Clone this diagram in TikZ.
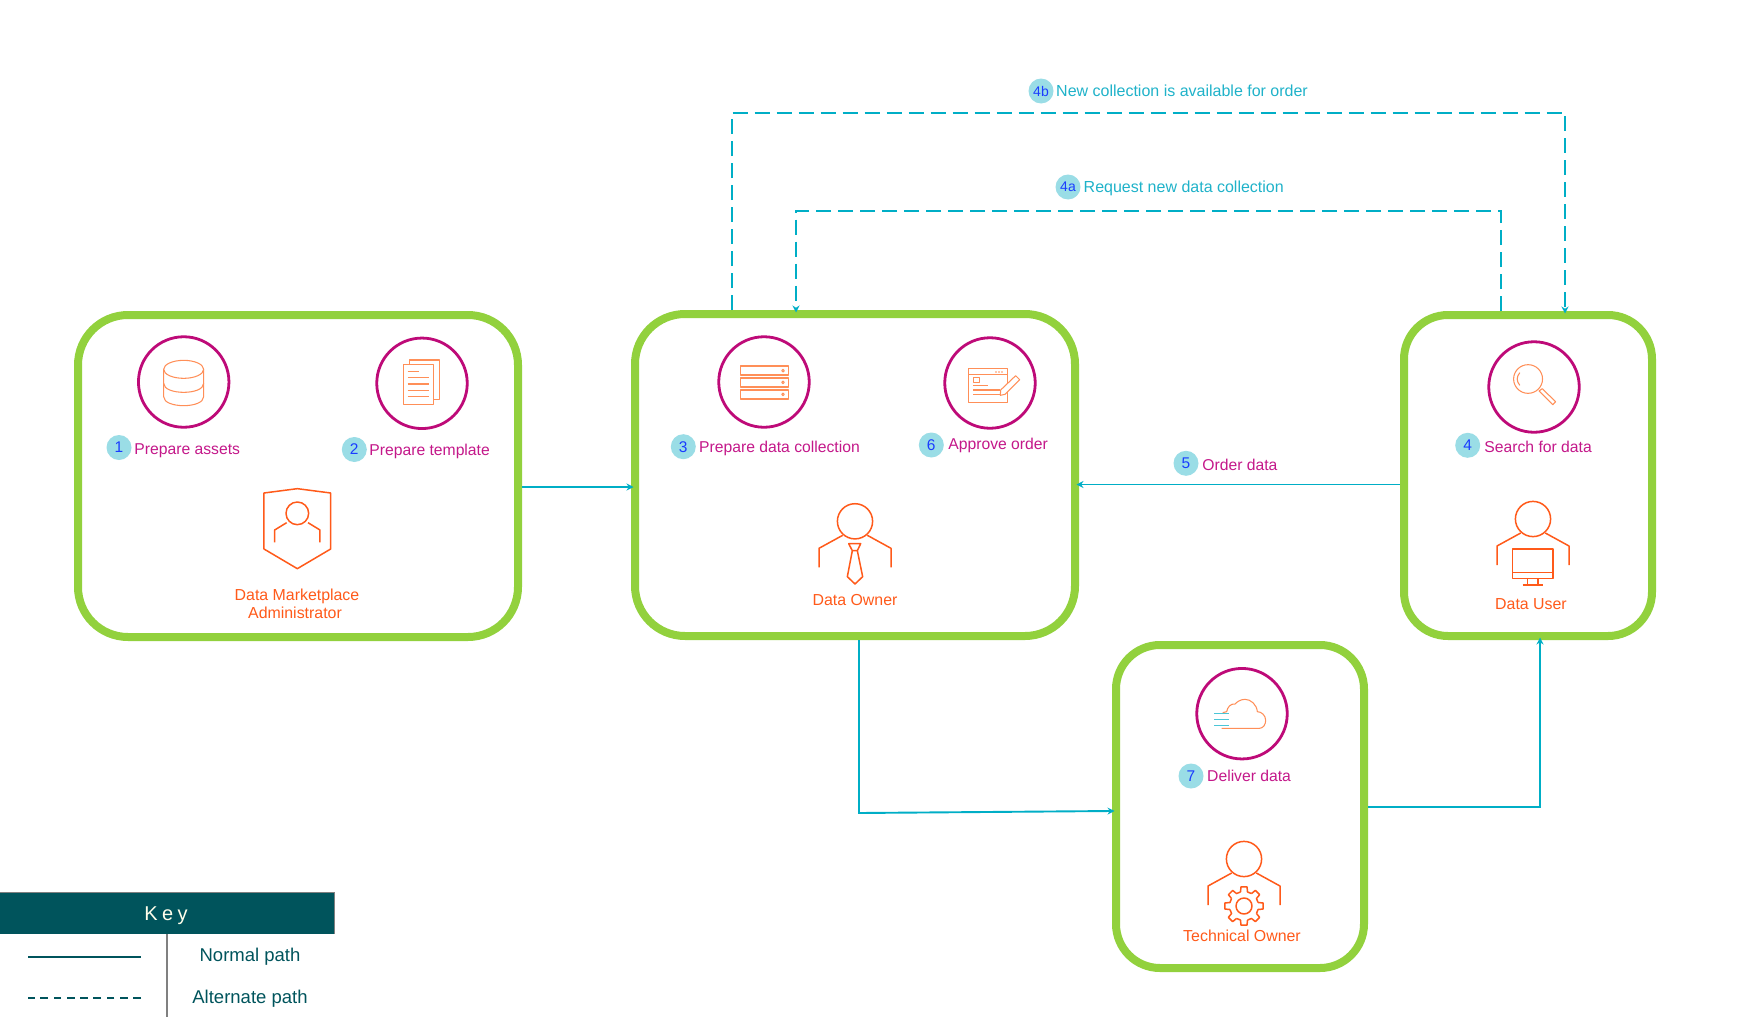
\documentclass[tikz,border=0pt]{standalone}
\usepackage{fontspec}
\setmainfont{Liberation Sans}
\usetikzlibrary{arrows.meta}
\definecolor{boxgreen}{HTML}{92D13D}
\definecolor{ringmag}{HTML}{BE0A78}
\definecolor{stepmag}{HTML}{C4188A}
\definecolor{roleor}{HTML}{FF5A1A}
\definecolor{iconor}{HTML}{FF8F58}
\definecolor{flowcy}{HTML}{00AEC6}
\definecolor{labelcy}{HTML}{1FB2C9}
\definecolor{badgecy}{HTML}{9ADDE6}
\definecolor{numblue}{HTML}{1A3CFF}
\definecolor{keyteal}{HTML}{00545C}
\tikzset{
  x=1pt,y=-1pt,
  groupbox/.style={draw=boxgreen,line width=8pt,rounded corners=#1,inner sep=0pt,fill=white},
  stepring/.style={draw=ringmag,line width=2.8pt,circle,minimum size=90.5pt,inner sep=0pt},
  badge/.style={fill=badgecy,circle,minimum size=25pt,inner sep=0pt,text=numblue,font=\fontsize{15.5}{18}\selectfont},
  smallbadge/.style={badge,font=\fontsize{14}{16}\selectfont},
  steptext/.style={anchor=base west,inner sep=0pt,text=stepmag,font=\fontsize{15.7}{18}\selectfont},
  flowtext/.style={anchor=base west,inner sep=0pt,text=labelcy,font=\fontsize{16}{18}\selectfont},
  roletext/.style={anchor=base,inner sep=0pt,text=roleor,align=center,font=\fontsize{15.9}{18}\selectfont},
  keytext/.style={anchor=base,inner sep=0pt,text=keyteal,font=\fontsize{18.5}{20}\selectfont},
  flow/.style={draw=flowcy,line width=1.9pt,shorten >=-2.5pt,-{Stealth[length=7pt,width=7pt]}},
  altflow/.style={flow,line width=2pt,dash pattern=on 15pt off 7pt},
  icon/.style={draw=iconor,line width=1.05pt,line join=round},
  figure/.style={draw=roleor,line width=1.5pt,line join=round},
  personbody/.pic={
    \draw[figure] (0,0) circle (17.6);
    \draw[figure] (-12.3,14) -- (-36,27) -- (-36,46);
    \draw[figure] (12.3,14) -- (36,27) -- (36,46);
  }
}
\begin{document}
\begin{tikzpicture}
\useasboundingbox (0,0) rectangle (1746,1017);

% group boxes
\node[groupbox=50pt,minimum width=440pt,minimum height=322pt] (b1) at (298,476) {};
\node[groupbox=50pt,minimum width=440pt,minimum height=322pt] (b2) at (855,475) {};
\node[groupbox=44pt,minimum width=248pt,minimum height=321pt] (b3) at (1528,475.5) {};
\node[groupbox=44pt,minimum width=248pt,minimum height=323pt] (b4) at (1240,806.5) {};

% connector end points
\coordinate (a1) at ([yshift=-11pt]b1.east);
\coordinate (a2) at ([yshift=-12pt]b2.west);
\coordinate (c1) at ([yshift=-9pt]b3.west);
\coordinate (c2) at ([yshift=-9.5pt]b2.east);
\coordinate (d1) at ([xshift=4pt]b2.south);
\coordinate (d2) at ([yshift=-4.5pt]b4.west);
\coordinate (d3) at (d1 |- 0,813);
\coordinate (e1) at ([yshift=-0.5pt]b4.east);
\coordinate (e2) at ([xshift=12pt]b3.south);
\coordinate (f1) at ([xshift=-123pt]b2.north);
\coordinate (f2) at ([xshift=37pt]b3.north);
\coordinate (ftop) at (0,112.5);
\coordinate (g1) at ([xshift=-27.5pt]b3.north);
\coordinate (g2) at ([xshift=-59pt]b2.north);
\coordinate (gtop) at (0,210.5);

% connectors
\draw[flow] (a1) -- (a2);
\draw[flow] (c1) -- (c2);
\draw[flow] (d1) -- (d3) -- (d2);
\draw[flow] (e1) -- (e2 |- e1) -- (e2);
\draw[altflow] (f1) -- (f1 |- ftop) -- (f2 |- ftop) -- (f2);
\draw[altflow] (g1) -- (g1 |- gtop) -- (g2 |- gtop) -- (g2);

% step rings
\node[stepring] (r1) at (183.7,382) {};
\node[stepring] (r2) at (422,383.3) {};
\node[stepring] (r3) at (764,382) {};
\node[stepring] (r6) at (990,383) {};
\node[stepring] (r4) at (1534,387) {};
\node[stepring] (r7) at (1242,713.7) {};

% badges
\node[badge] (n1) at (119,447.5) {1};
\node[badge] (n2) at (354.3,449.5) {2};
\node[badge] (n3) at (683.3,446.7) {3};
\node[badge] (n6) at (931.3,445) {6};
\node[badge] (n4) at (1467.7,445.3) {4};
\node[badge] (n5) at (1186,463.3) {5};
\node[badge] (n7) at (1191,776) {7};
\node[smallbadge] (n4b) at (1041,91) {4b};
\node[smallbadge] (n4a) at (1068,187) {4a};

% step and flow labels
\node[steptext] (t1) at (134.2,454) {Prepare assets};
\node[steptext] (t2) at (369.2,455) {Prepare template};
\node[steptext] (t3) at (699,452) {Prepare data collection};
\node[steptext] (t6) at (948.2,449) {Approve order};
\node[steptext] (t4) at (1484.2,452) {Search for data};
\node[steptext] (t5) at (1202.2,470) {Order data};
\node[steptext] (t7) at (1207,781) {Deliver data};
\node[flowtext] (t4b) at (1056,96) {New collection is available for order};
\node[flowtext] (t4a) at (1083.5,192) {Request new data collection};

% role labels
\node[roletext] (ra) at (297,600) {Data Marketplace};
\node[roletext] (rb) at (295,618) {Administrator};
\node[roletext] (ro) at (855,605) {Data Owner};
\node[roletext] (ru) at (1531,609) {Data User};
\node[roletext] (rt) at (1242,941) {Technical Owner};

% --- icon: database (zoom coordinates)
\begin{scope}[shift={(60,300)},scale=1/3]
  \draw[icon] (371,208) ellipse (60 and 27);
  \draw[icon] (311,208) -- (311,290) .. controls (311,326) and (431,326) .. (431,290) -- (431,208);
  \draw[icon] (311,250) .. controls (311,286) and (431,286) .. (431,250);
  % documents
  \draw[icon] (1048,194) -- (1048,180) -- (1138,180) -- (1138,298) -- (1122,298);
  \draw[icon] (1031,194) rectangle (1121,313);
  \draw[icon] (1043,214) -- (1076,214);
  \foreach \ly in {233,252,271,290} \draw[icon] (1043,\ly) -- (1108,\ly);
  % administrator shield
  \draw[figure] (712,566) -- (812,579) -- (812,747) -- (712,806) -- (612,747) -- (612,579) -- cycle;
  \draw[figure] (712,640) circle (34);
  \draw[figure] (680,668) -- (644,690) -- (644,727);
  \draw[figure] (744,668) -- (780,690) -- (780,727);
\end{scope}

% --- icons: server, approve order
\begin{scope}[shift={(620,310)},scale=1/3]
  \foreach \ty/\dy in {168/182,204/217,240/253}{
    \draw[icon] (361,\ty) rectangle (506,\ty+27);
    \draw[icon] (489,\dy) circle (4);
  }
  \draw[icon,fill=white] (1045,176) rectangle (1162,277);
  \draw[icon] (1045,193) -- (1162,193);
  \foreach \dx in {1128,1137,1146} \fill[iconor] (\dx,186) circle (2.6);
  \draw[icon] (1060,202) rectangle (1078,218);
  \draw[icon] (1060,227) -- (1103,227);
  \draw[icon] (1060,240) -- (1140,240);
  \draw[icon] (1060,254) -- (1140,254);
  \draw[icon,fill=white] (1142,240) -- (1187,197) -- (1199,209) -- (1155,253) -- (1141,256) -- cycle;
\end{scope}

% --- icon: magnifier
\begin{scope}[shift={(1130,310)},xscale=1/2.904,yscale=1/3]
  \draw[icon] (1156,207) ellipse (42 and 43);
  \draw[icon] (1132,188) .. controls (1122,200) and (1122,214) .. (1132,226);
  \draw[icon] (1188,243) -- (1197,236) -- (1236,275) -- (1228,284) -- cycle;
\end{scope}

% --- icon: cloud
\begin{scope}[shift={(1100,640)},scale=1/3]
  \draw[icon] (365,265) -- (478,265) .. controls (490,265) and (497,253) .. (497,241)
     .. controls (497,226) and (484,215) .. (472,215) .. controls (470,193) and (452,178) .. (435,178)
     .. controls (420,178) and (410,187) .. (405,192) .. controls (392,190) and (382,202) .. (380,215) -- (368,218);
  \foreach \ly in {220,238,256} \draw[draw=flowcy!70,line width=1.05pt] (343,\ly) -- (388,\ly);
\end{scope}

% --- people
\pic at (855,521.3) {personbody};
\begin{scope}[shift={(620,310)},scale=1/3]
  \draw[figure] (686,701) -- (722,701) -- (712,722) -- (697,722) -- cycle;
  \draw[figure] (697,722) -- (682,800) -- (705,822) -- (728,800) -- (712,722);
\end{scope}

\pic at (1533,519) {personbody};
\begin{scope}[shift={(1130,310)},xscale=1/2.904,yscale=1/3]
  \draw[figure] (1111,717) rectangle (1229,805);
  \draw[figure] (1111,787) -- (1229,787);
  \draw[figure] (1155,805) -- (1155,825);
  \draw[figure] (1185,805) -- (1185,825);
  \draw[figure] (1140,825) -- (1200,825);
\end{scope}

\pic at (1244,859) {personbody};
\begin{scope}[shift={(1244,906)}]
  \draw[figure] (0,0) circle (8);
  \foreach \a in {90,135,...,405}{
    \draw[figure] ({\a-14}:14.5) -- ({\a-9}:19.3) -- ({\a+9}:19.3) -- ({\a+14}:14.5) -- ({\a+31}:14.5);
  }
\end{scope}

% --- key
\fill[keyteal] (0,892) rectangle (334,934);
\draw[gray,line width=0.8pt] (0,892) -- (334,892) -- (334,934);
\node[anchor=base,inner sep=0pt,text=white!92!yellow,font={\fontsize{20}{22}\selectfont\addfontfeature{LetterSpace=22}}] (keyhead) at (166,920.5) {Key};
\draw[gray,line width=1.2pt] (167,934) -- (167,1017);
\coordinate (k1a) at (28,957);
\coordinate (k1b) at (141,957);
\coordinate (k2a) at (28,998);
\coordinate (k2b) at (141,998);
\draw[draw=keyteal,line width=1.7pt] (k1a) -- (k1b);
\draw[draw=keyteal,line width=1.7pt,dash pattern=on 7.7pt off 5.6pt] (k2b) -- (k2a);
\node[keytext] (kn) at (250,961.5) {Normal path};
\node[keytext] (ka) at (250,1003.5) {Alternate path};
\end{tikzpicture}
\end{document}
